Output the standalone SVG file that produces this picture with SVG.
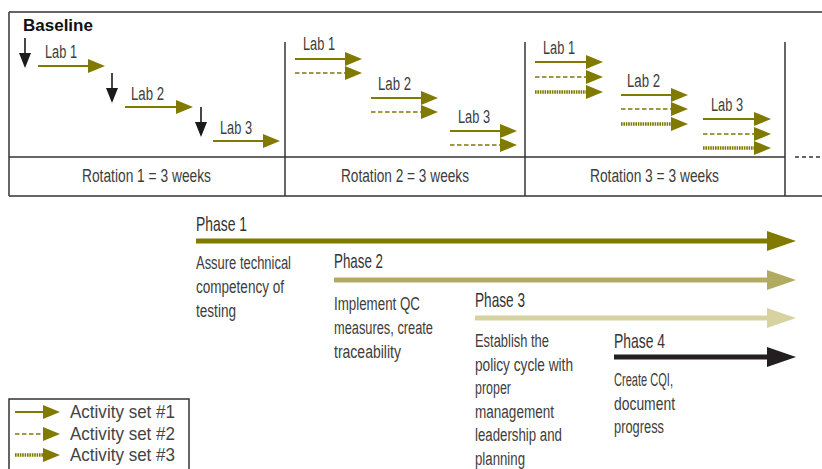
<svg xmlns="http://www.w3.org/2000/svg" width="822" height="469" viewBox="0 0 822 469">
<style>
text{font-family:"Liberation Sans",Arial,sans-serif;fill:#3d3d3d}
.lab{font-size:18px}
.rot{font-size:18px}
.ph{font-size:21px;fill:#333}
.desc{font-size:18px}
.leg{font-size:19px;fill:#444}
.frame{stroke:#333;stroke-width:1.5;fill:none}
.s1{stroke:#807a00;stroke-width:2;fill:none;marker-end:url(#oh)}
.s2{stroke:#807a00;stroke-width:1.6;stroke-dasharray:4.5 2.5;fill:none;marker-end:url(#oh)}
.s3{stroke:#807a00;stroke-width:3.6;stroke-dasharray:1.6 0.8;fill:none;marker-end:url(#oh)}
.down{stroke:#1a1a1a;stroke-width:1.6;fill:none;marker-end:url(#bh)}
.pl{stroke-width:5;fill:none}
</style>
<defs>
<marker id="oh" markerUnits="userSpaceOnUse" markerWidth="18" markerHeight="14" viewBox="0 -7 18 14" refX="0" refY="0" orient="auto"><path d="M0,-7 L17,0 L0,7z" fill="#807a00"/></marker>
<marker id="bh" markerUnits="userSpaceOnUse" markerWidth="16" markerHeight="12" viewBox="0 -6 16 12" refX="0" refY="0" orient="auto"><path d="M0,-6 L15,0 L0,6z" fill="#1a1a1a"/></marker>
</defs>

<g id="frame">
<line class="frame" x1="9" y1="12" x2="822" y2="12"/>
<line class="frame" x1="9" y1="12" x2="9" y2="196"/>
<line class="frame" x1="9" y1="157" x2="785" y2="157"/>
<line class="frame" x1="9" y1="196" x2="822" y2="196"/>
<line class="frame" x1="285" y1="42" x2="285" y2="196"/>
<line class="frame" x1="525" y1="42" x2="525" y2="196"/>
<line class="frame" x1="785" y1="42" x2="785" y2="196"/>
<line class="frame" x1="795" y1="157" x2="822" y2="157" stroke-dasharray="4 3"/>
<text x="23" y="31" style="font-size:17px;font-weight:bold;fill:#111">Baseline</text>
</g>

<g id="connectors">
<line class="down" x1="25" y1="38" x2="25" y2="53"/>
<line class="down" x1="112" y1="73" x2="112" y2="88"/>
<line class="down" x1="201" y1="107" x2="201" y2="122"/>
<line class="s1" x1="38" y1="66" x2="88" y2="66"/>
<line class="s1" x1="125" y1="107" x2="176" y2="107"/>
<line class="s1" x1="213" y1="141" x2="263" y2="141"/>

<line class="s1" x1="295" y1="59" x2="345" y2="59"/>
<line class="s2" x1="295" y1="73" x2="345" y2="73"/>
<line class="s1" x1="371" y1="98" x2="421" y2="98"/>
<line class="s2" x1="371" y1="112" x2="421" y2="112"/>
<line class="s1" x1="450" y1="131" x2="500" y2="131"/>
<line class="s2" x1="450" y1="145" x2="500" y2="145"/>

<line class="s1" x1="535" y1="62" x2="586" y2="62"/>
<line class="s2" x1="535" y1="77" x2="586" y2="77"/>
<line class="s3" x1="535" y1="92" x2="586" y2="92"/>
<line class="s1" x1="621" y1="95" x2="671" y2="95"/>
<line class="s2" x1="621" y1="109" x2="671" y2="109"/>
<line class="s3" x1="621" y1="124" x2="671" y2="124"/>
<line class="s1" x1="703" y1="119" x2="754" y2="119"/>
<line class="s2" x1="703" y1="134" x2="754" y2="134"/>
<line class="s3" x1="703" y1="148" x2="754" y2="148"/>
</g>

<g id="rotation1">
<text class="lab" x="45" y="58" textLength="32" lengthAdjust="spacingAndGlyphs">Lab 1</text>
<text class="lab" x="131" y="100" textLength="33" lengthAdjust="spacingAndGlyphs">Lab 2</text>
<text class="lab" x="220" y="134" textLength="32" lengthAdjust="spacingAndGlyphs">Lab 3</text>
<text class="rot" x="82" y="182" textLength="129" lengthAdjust="spacingAndGlyphs">Rotation 1 = 3 weeks</text>
</g>
<g id="rotation2">
<text class="lab" x="303" y="50" textLength="32" lengthAdjust="spacingAndGlyphs">Lab 1</text>
<text class="lab" x="378" y="90" textLength="33" lengthAdjust="spacingAndGlyphs">Lab 2</text>
<text class="lab" x="458" y="123" textLength="32" lengthAdjust="spacingAndGlyphs">Lab 3</text>
<text class="rot" x="341" y="182" textLength="128" lengthAdjust="spacingAndGlyphs">Rotation 2 = 3 weeks</text>
</g>
<g id="rotation3">
<text class="lab" x="543" y="54" textLength="32" lengthAdjust="spacingAndGlyphs">Lab 1</text>
<text class="lab" x="627" y="87" textLength="33" lengthAdjust="spacingAndGlyphs">Lab 2</text>
<text class="lab" x="711" y="111" textLength="32" lengthAdjust="spacingAndGlyphs">Lab 3</text>
<text class="rot" x="590" y="182" textLength="129" lengthAdjust="spacingAndGlyphs">Rotation 3 = 3 weeks</text>
</g>

<g id="phase1">
<text class="ph" x="196" y="231" textLength="51" lengthAdjust="spacingAndGlyphs">Phase 1</text>
<line class="pl" x1="196" y1="241" x2="768" y2="241" stroke="#807a00"/>
<polygon points="767,231 796,241 767,251" fill="#807a00"/>
<text class="desc" x="196" y="269" textLength="95" lengthAdjust="spacingAndGlyphs">Assure technical</text>
<text class="desc" x="196" y="293" textLength="88" lengthAdjust="spacingAndGlyphs">competency of</text>
<text class="desc" x="196" y="317" textLength="40" lengthAdjust="spacingAndGlyphs">testing</text>
</g>
<g id="phase2">
<text class="ph" x="334" y="268" textLength="49" lengthAdjust="spacingAndGlyphs">Phase 2</text>
<line class="pl" x1="334" y1="280" x2="768" y2="280" stroke="#b1ab62"/>
<polygon points="767,270 796,280 767,290" fill="#b1ab62"/>
<text class="desc" x="334" y="310" textLength="86" lengthAdjust="spacingAndGlyphs">Implement QC</text>
<text class="desc" x="334" y="334" textLength="99" lengthAdjust="spacingAndGlyphs">measures, create</text>
<text class="desc" x="334" y="358" textLength="67" lengthAdjust="spacingAndGlyphs">traceability</text>
</g>
<g id="phase3">
<text class="ph" x="475" y="307" textLength="50" lengthAdjust="spacingAndGlyphs">Phase 3</text>
<line class="pl" x1="475" y1="318" x2="768" y2="318" stroke="#d7d3a1"/>
<polygon points="767,308 796,318 767,328" fill="#d7d3a1"/>
<text class="desc" x="475" y="347" textLength="74" lengthAdjust="spacingAndGlyphs">Establish the</text>
<text class="desc" x="475" y="370.5" textLength="98" lengthAdjust="spacingAndGlyphs">policy cycle with</text>
<text class="desc" x="475" y="394" textLength="36" lengthAdjust="spacingAndGlyphs">proper</text>
<text class="desc" x="475" y="417.5" textLength="79" lengthAdjust="spacingAndGlyphs">management</text>
<text class="desc" x="475" y="441" textLength="87" lengthAdjust="spacingAndGlyphs">leadership and</text>
<text class="desc" x="475" y="464.5" textLength="50" lengthAdjust="spacingAndGlyphs">planning</text>
</g>
<g id="phase4">
<text class="ph" x="614" y="348" textLength="51" lengthAdjust="spacingAndGlyphs">Phase 4</text>
<line class="pl" x1="614" y1="357" x2="768" y2="357" stroke="#231f20"/>
<polygon points="767,347 796,357 767,367" fill="#231f20"/>
<text class="desc" x="614" y="386" textLength="59" lengthAdjust="spacingAndGlyphs">Create CQI,</text>
<text class="desc" x="614" y="410" textLength="61" lengthAdjust="spacingAndGlyphs">document</text>
<text class="desc" x="614" y="433" textLength="50" lengthAdjust="spacingAndGlyphs">progress</text>
</g>

<g id="legend">
<rect class="frame" x="9" y="399" width="180" height="80"/>
<line class="s1" x1="15" y1="412" x2="43" y2="412"/>
<line class="s2" x1="15" y1="434" x2="43" y2="434"/>
<line class="s3" x1="15" y1="455" x2="43" y2="455"/>
<text class="leg" x="70" y="418" textLength="105" lengthAdjust="spacingAndGlyphs">Activity set #1</text>
<text class="leg" x="70" y="440" textLength="105" lengthAdjust="spacingAndGlyphs">Activity set #2</text>
<text class="leg" x="70" y="461" textLength="105" lengthAdjust="spacingAndGlyphs">Activity set #3</text>
</g>
</svg>
